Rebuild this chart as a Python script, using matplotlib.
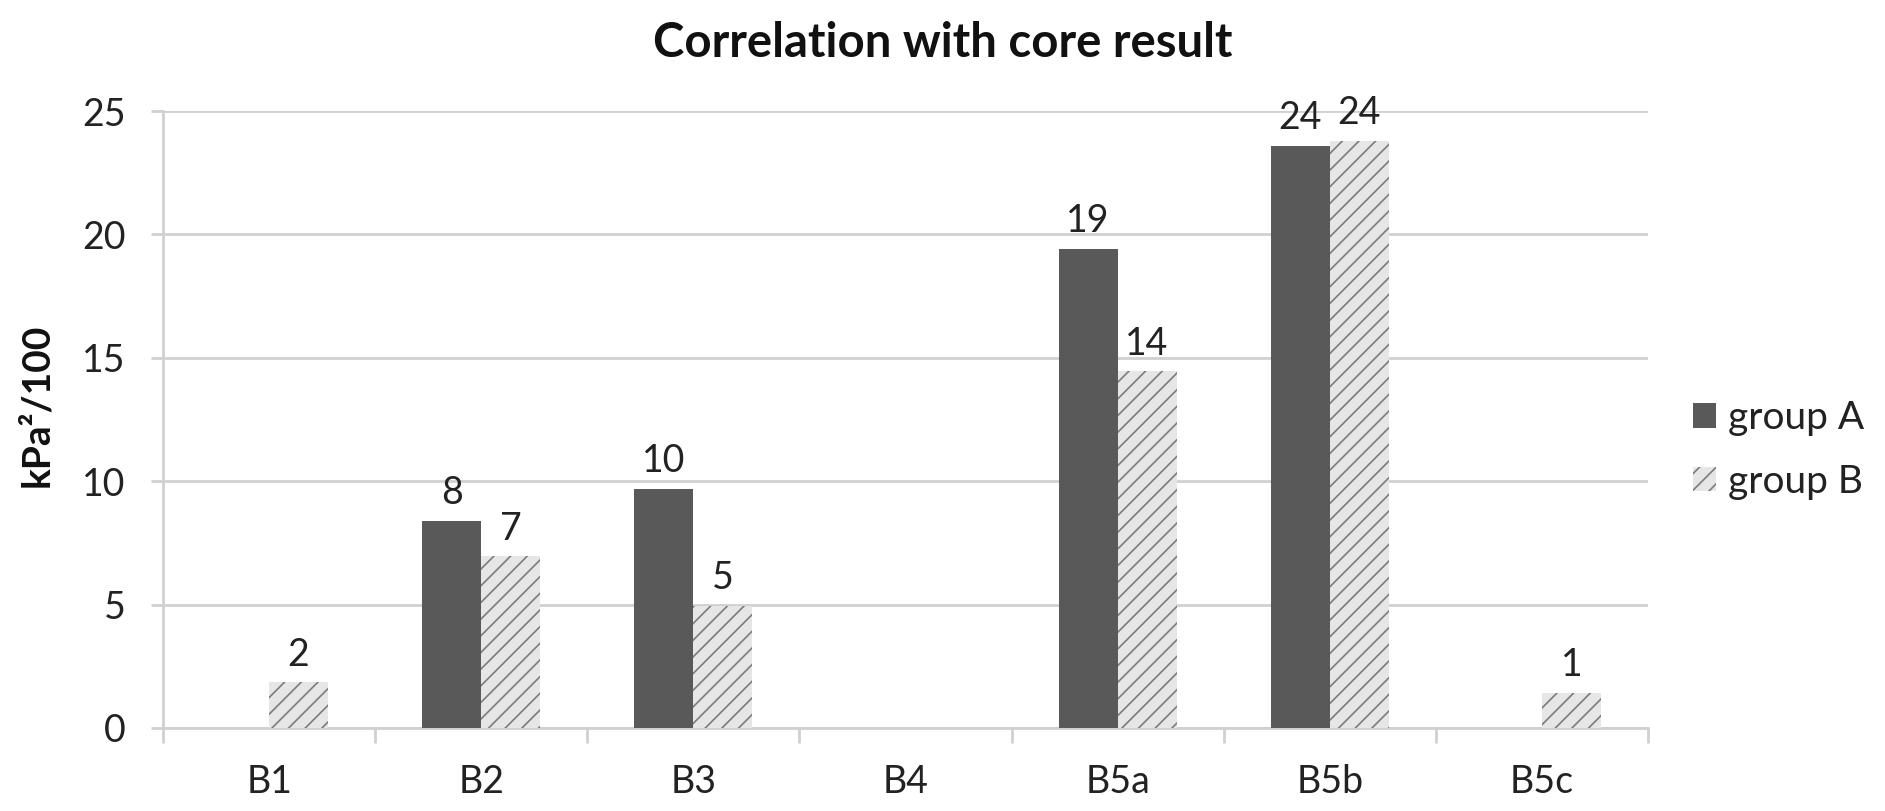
import numpy as np
import matplotlib
matplotlib.use("Agg")
import matplotlib.pyplot as plt
from matplotlib.ticker import FixedLocator

plt.rcParams['font.family'] = ['Lato', 'DejaVu Sans']
plt.rcParams['hatch.linewidth'] = 1.2

# Data
categories = ["B1", "B2", "B3", "B4", "B5a", "B5b", "B5c"]
group_a = [np.nan, 8.4, 9.7, np.nan, 19.4, 23.6, np.nan]
group_b = [1.85, 6.95, 4.95, np.nan, 14.45, 23.8, 1.42]
series_names = ["group A", "group B"]
y_ticks = [0, 5, 10, 15, 20, 25]

W, H = 1885, 811
fig = plt.figure(figsize=(W / 100, H / 100), dpi=100)
ax = fig.add_axes([163 / W, 1 - 728 / H, (1648 - 163) / W, (728 - 111) / H])

x = np.arange(len(categories))
bar_w = 1 / 1.8 / 2  # 80% gap between category groups

grid_col = "#d0d0d0"
dark = "#595959"
text_col = "#222222"

bars_a = ax.bar(x - bar_w / 2, group_a, width=bar_w, color=dark, linewidth=0,
                label=series_names[0], zorder=3)
bars_b = ax.bar(x + bar_w / 2, group_b, width=bar_w, facecolor="#e6e6e6",
                edgecolor="#7c7c7c", hatch="//", linewidth=0,
                label=series_names[1], zorder=3)

# Value labels above bars
for bars, vals in ((bars_a, group_a), (bars_b, group_b)):
    for rect, v in zip(bars, vals):
        if np.isnan(v):
            continue
        ax.annotate(f"{v:.0f}", (rect.get_x() + rect.get_width() / 2, v),
                    xytext=(0, 7), textcoords="offset points",
                    ha="center", va="bottom", fontsize=27, color=text_col)

ax.set_xlim(-0.5, len(categories) - 0.5)
ax.set_ylim(0, 25)
ax.yaxis.set_major_locator(FixedLocator(y_ticks))
ax.set_xticks(x)
ax.set_xticklabels(categories)
ax.xaxis.set_minor_locator(FixedLocator(np.arange(-0.5, len(categories), 1.0)))

ax.grid(axis="y", color=grid_col, linewidth=2, zorder=0)
ax.set_axisbelow(True)
for side in ("top", "right"):
    ax.spines[side].set_visible(False)
for side in ("left", "bottom"):
    ax.spines[side].set_color(grid_col)
    ax.spines[side].set_linewidth(2)

ax.tick_params(axis="x", which="major", length=0, pad=26, labelsize=27, labelcolor=text_col)
ax.tick_params(axis="x", which="minor", length=11, width=2, color=grid_col)
ax.tick_params(axis="y", which="major", length=9, width=2, color=grid_col,
               pad=18, labelsize=27, labelcolor=text_col)

ax.set_ylabel("kPa²/100", fontsize=28, fontweight="bold", color="#111111")
ax.yaxis.set_label_coords(54 / W, 0.5, transform=fig.transFigure)

fig.suptitle("Correlation with core result", x=0.5, y=1 - 43 / H, va="center",
             fontsize=34, fontweight="bold", color="#111111")

leg = fig.legend(handles=[bars_a, bars_b], labels=series_names,
                 loc="center left", bbox_to_anchor=(1693 / W, 1 - 450 / H),
                 frameon=False, fontsize=28, handlelength=0.6, handleheight=0.6,
                 handletextpad=0.3, labelspacing=0.7, borderpad=0, borderaxespad=0)
for t in leg.get_texts():
    t.set_color(text_col)

fig.savefig("out.png", dpi=100, facecolor="white")
